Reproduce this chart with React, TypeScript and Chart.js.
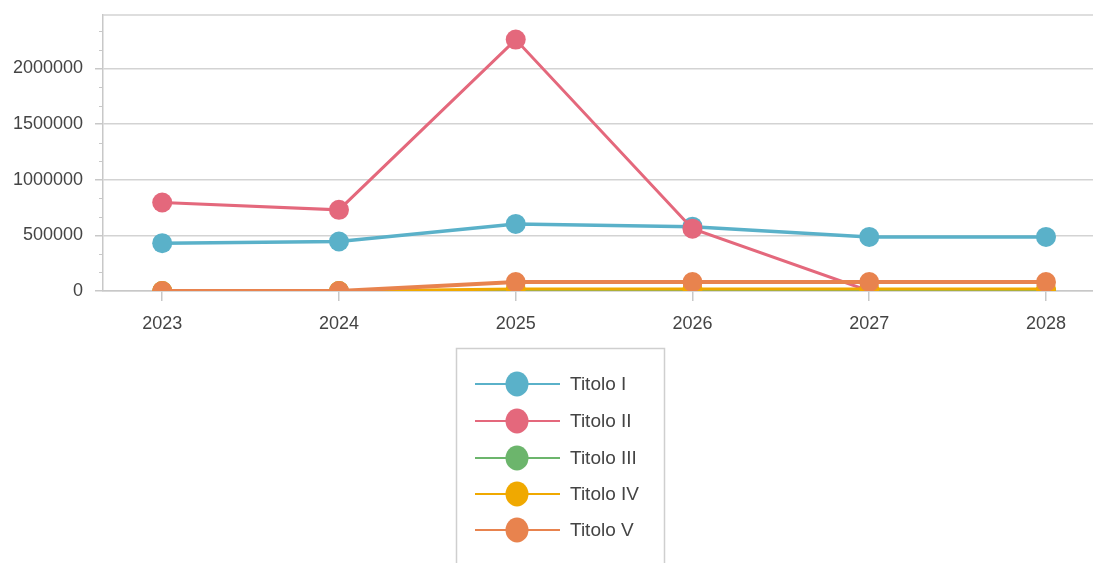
import React, { useEffect, useRef } from "react";
import { Chart, registerables } from "chart.js";

Chart.register(...registerables);

const years = [2023, 2024, 2025, 2026, 2027, 2028];
const seriesNames = ["Titolo I", "Titolo II", "Titolo III", "Titolo IV", "Titolo V"];
const titoloI = [430000, 445000, 603000, 578000, 486000, 486000];
const titoloII = [795000, 729000, 2259000, 560000, 0, 0];
const titoloIII = [0, 0, 0, 0, 0, 0];
const titoloIV = [0, 0, 18000, 18000, 18000, 18000];
const titoloV = [0, 0, 81000, 81000, 81000, 81000];
const yTickValues = [0, 500000, 1000000, 1500000, 2000000];
const colors = ["#5ab1c9", "#e4687c", "#6cb56c", "#f0a900", "#e8834e"];
const yMinorStep = 500000 / 3;
const yMax = 2480000;

const FONT = "'Liberation Sans', Arial, sans-serif";

const frameAndLegend = {
  id: "frameAndLegend",
  afterDraw(chart: any) {
    const ctx = chart.ctx;
    const area = chart.chartArea;
    const yScale = chart.scales.y;
    ctx.save();
    // top frame line
    ctx.strokeStyle = "#d3d3d3";
    ctx.lineWidth = 1.5;
    ctx.beginPath();
    ctx.moveTo(area.left, area.top);
    ctx.lineTo(area.right, area.top);
    ctx.stroke();
    // minor ticks
    ctx.strokeStyle = "#c8c8c8";
    ctx.lineWidth = 1;
    for (let i = 1; i * yMinorStep < yMax; i++) {
      if (i % 3 === 0) continue;
      const py = Math.round(yScale.getPixelForValue(i * yMinorStep)) + 0.5;
      ctx.beginPath();
      ctx.moveTo(area.left - 4, py);
      ctx.lineTo(area.left, py);
      ctx.stroke();
    }
    // legend box
    const bx = 456.5, by = 348.5, bw = 208, bh = 230;
    ctx.strokeStyle = "#cfcfcf";
    ctx.lineWidth = 1.5;
    ctx.strokeRect(bx, by, bw, bh);
    const rowY = [384, 421, 458, 494, 530];
    seriesNames.forEach((name, i) => {
      const y = rowY[i];
      ctx.strokeStyle = colors[i];
      ctx.lineWidth = 2;
      ctx.beginPath();
      ctx.moveTo(475, y);
      ctx.lineTo(560, y);
      ctx.stroke();
      ctx.fillStyle = colors[i];
      ctx.beginPath();
      ctx.ellipse(517, y, 11.5, 12.5, 0, 0, Math.PI * 2);
      ctx.fill();
      ctx.fillStyle = "#444";
      ctx.font = `19px ${FONT}`;
      ctx.textAlign = "left";
      ctx.textBaseline = "middle";
      ctx.fillText(name, 570, y + 1);
    });
    ctx.restore();
  },
};

export default function App() {
  const ref = useRef<HTMLCanvasElement | null>(null);
  useEffect(() => {
    document.body.style.margin = "0";
    document.body.style.overflow = "hidden";
    const allSeries = [titoloI, titoloII, titoloIII, titoloIV, titoloV];
    const chart = new Chart(ref.current as HTMLCanvasElement, {
      type: "line",
      data: {
        datasets: allSeries.map((vals, i) => ({
          label: seriesNames[i],
          data: vals.map((v, j) => ({ x: years[j], y: v })),
          borderColor: colors[i],
          backgroundColor: colors[i],
          borderWidth: i === 0 ? 3.5 : i === 4 ? 4 : 3,
          pointRadius: 10,
          pointBorderWidth: 0,
          pointBackgroundColor: colors[i],
          tension: 0,
          fill: false,
          order: 5 - i,
        })),
      },
      options: {
        animation: false,
        responsive: true,
        maintainAspectRatio: false,
        events: [],
        layout: { autoPadding: false, padding: { top: 15, left: 0, right: 0, bottom: 0 } },
        plugins: {
          legend: { display: false },
          tooltip: { enabled: false },
        },
        scales: {
          x: {
            type: "linear",
            min: 2022.665,
            max: 2028.266,
            afterFit: (s: any) => {
              s.height = 272;
              s.paddingLeft = 0;
              s.paddingRight = 0;
              s.paddingTop = 0;
              s.paddingBottom = 0;
            },
            afterBuildTicks: (s: any) => {
              s.ticks = years.map((v) => ({ value: v }));
            },
            border: { display: true, color: "#c8c8c8", width: 1.5 },
            grid: {
              drawOnChartArea: false,
              drawTicks: true,
              tickLength: 10,
              tickColor: "#c8c8c8",
              lineWidth: 1.5,
            },
            ticks: {
              autoSkip: false,
              maxRotation: 0,
              padding: 12,
              color: "#444",
              font: { family: FONT, size: 18 },
              callback: (v: any) => String(v),
            },
          },
          y: {
            type: "linear",
            min: 0,
            max: yMax,
            afterFit: (s: any) => {
              s.width = 103;
              s.paddingLeft = 0;
              s.paddingRight = 0;
              s.paddingTop = 0;
              s.paddingBottom = 0;
            },
            afterBuildTicks: (s: any) => {
              s.ticks = yTickValues.map((v) => ({ value: v }));
            },
            border: { display: true, color: "#c8c8c8", width: 1.5 },
            grid: {
              color: "#d3d3d3",
              lineWidth: 1.5,
              tickLength: 8,
              tickColor: "#c8c8c8",
            },
            ticks: {
              autoSkip: false,
              padding: 12,
              color: "#444",
              font: { family: FONT, size: 18 },
              callback: (v: any) => String(v),
            },
          },
        },
      },
      plugins: [frameAndLegend],
    });
    return () => chart.destroy();
  }, []);
  return (
    <div style={{ width: 1093, height: 563, position: "relative" }}>
      <canvas ref={ref} />
    </div>
  );
}
